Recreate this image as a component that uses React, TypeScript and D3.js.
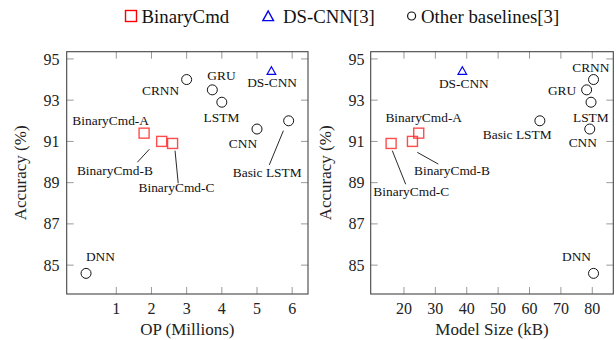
import React from 'react';
import * as d3 from 'd3';

// accuracy (%) shared by both panels
const binNames = ['BinaryCmd-A', 'BinaryCmd-B', 'BinaryCmd-C'];
const binAcc = [91.4, 91.0, 90.9];
const binOps = [1.79, 2.29, 2.6];
const binSize = [24.7, 22.7, 15.9];

const dsName = 'DS-CNN';
const dsAcc = 94.4;
const dsOps = 5.41;
const dsSize = 38.6;

const baseNames = ['DNN', 'CRNN', 'GRU', 'LSTM', 'CNN', 'Basic LSTM'];
const baseAcc = [84.6, 94.0, 93.5, 92.9, 91.6, 92.0];
const baseOps = [0.14, 3.0, 3.73, 4.0, 5.0, 5.9];
const baseSize = [80.4, 80.4, 78.2, 79.6, 79.2, 63.3];

const yTicks = [85, 87, 89, 91, 93, 95];
const opsTicks = [1, 2, 3, 4, 5, 6];
const sizeTicks = [20, 30, 40, 50, 60, 70, 80];

// label anchors in axis units: [name, x, y] (text centre / baseline)
const opsLabels: [string, number, number][] = [
  ['DNN', 0.55, 85.2], ['CRNN', 2.26, 93.25], ['GRU', 3.99, 93.98], ['LSTM', 3.99, 91.96],
  ['CNN', 4.6, 90.67], ['Basic LSTM', 5.29, 89.29], ['DS-CNN', 5.43, 93.65],
  ['BinaryCmd-A', 0.84, 91.8], ['BinaryCmd-B', 0.96, 89.39], ['BinaryCmd-C', 2.71, 88.56],
];
const opsLeaders: [number, number, number, number][] = [
  [5.75, 91.52, 5.35, 89.86], [1.94, 90.62, 1.6, 89.99], [2.67, 90.55, 2.76, 88.97],
];
const sizeLabels: [string, number, number][] = [
  ['DNN', 74.98, 85.21], ['CRNN', 79.54, 94.35], ['GRU', 70.36, 93.25], ['LSTM', 79.54, 91.96],
  ['CNN', 76.99, 90.71], ['Basic LSTM', 56.08, 91.1], ['DS-CNN', 39.07, 93.57],
  ['BinaryCmd-A', 26.29, 91.96], ['BinaryCmd-B', 35.31, 89.35], ['BinaryCmd-C', 22.34, 88.34],
];
const sizeLeaders: [number, number, number, number][] = [
  [24.25, 90.47, 30.94, 89.9], [16.28, 90.55, 20.55, 88.92],
];

const FONT = '"Liberation Serif", "Times New Roman", serif';
const TOP = 51.7, BOTTOM = 294;

function Panel({ x0, x1, xDomain, xTicks, xLabel, xs, labels, leaders, labelX, tickLabelX }: any) {
  const x = d3.scaleLinear().domain(xDomain).range([x0, x1]);
  const y = d3.scaleLinear().domain([83.6, 95.35]).range([BOTTOM, TOP]);
  const tick = 7;
  const tri = (cx: number, cy: number) => `M${cx},${cy - 4.5}L${cx + 4.3},${cy + 3}L${cx - 4.3},${cy + 3}Z`;
  return (
    <g fontFamily={FONT}>
      {yTicks.map(t => (
        <g key={'y' + t}>
          <line x1={x0} x2={x0 + tick} y1={y(t)} y2={y(t)} stroke="#9a9a9a" />
          <line x1={x1} x2={x1 - tick} y1={y(t)} y2={y(t)} stroke="#9a9a9a" />
          <text x={tickLabelX} y={y(t)} dy="0.35em" textAnchor="end" fontSize={16} fill="#222">{t}</text>
        </g>
      ))}
      {xTicks.map((t: number) => (
        <g key={'x' + t}>
          <line x1={x(t)} x2={x(t)} y1={BOTTOM} y2={BOTTOM - tick} stroke="#9a9a9a" />
          <line x1={x(t)} x2={x(t)} y1={TOP} y2={TOP + tick} stroke="#9a9a9a" />
          <text x={x(t)} y={314} textAnchor="middle" fontSize={16} fill="#222">{t}</text>
        </g>
      ))}
      <rect x={x0} y={TOP} width={x1 - x0} height={BOTTOM - TOP} fill="none" stroke="#444" strokeWidth={1.1} />
      <text x={(x0 + x1) / 2} y={335} textAnchor="middle" fontSize={17} fill="#222">{xLabel}</text>
      <text transform={`translate(${labelX},${(TOP + BOTTOM) / 2}) rotate(-90)`} textAnchor="middle" fontSize={17} fill="#222">Accuracy (%)</text>

      {leaders.map((l: number[], i: number) => (
        <line key={'l' + i} x1={x(l[0])} y1={y(l[1])} x2={x(l[2])} y2={y(l[3])} stroke="#111" strokeWidth={0.9} />
      ))}
      {baseAcc.map((a, i) => (
        <circle key={'c' + i} cx={x(xs.base[i])} cy={y(a)} r={5} fill="none" stroke="#111" strokeWidth={1} />
      ))}
      <path d={tri(x(xs.ds), y(dsAcc))} fill="none" stroke="#0000ee" strokeWidth={1.2} />
      {binAcc.map((a, i) => (
        <rect key={'b' + i} x={x(xs.bin[i]) - 5} y={y(a) - 5} width={10} height={10} fill="none" stroke="#ff2020" strokeOpacity={0.8} strokeWidth={1.4} />
      ))}
      {labels.map((l: [string, number, number]) => (
        <text key={l[0]} x={x(l[1])} y={y(l[2])} textAnchor="middle" fontSize={13.4} fill="#111">{l[0]}</text>
      ))}
    </g>
  );
}

export default function App() {
  return (
    <svg width={616} height={340} style={{ position: 'absolute', left: 0, top: 0, background: '#fff' }}>
      <g fontFamily={FONT} fontSize={18.8} fill="#111">
        <rect x={125.5} y={10.5} width={11} height={11} fill="none" stroke="#ff0000" strokeWidth={1.4} />
        <text x={141.5} y={23}>BinaryCmd</text>
        <path d="M268.2,11L273.5,20.6L262.9,20.6Z" fill="none" stroke="#0000ee" strokeWidth={1.4} />
        <text x={283} y={23}>{dsName}[3]</text>
        <circle cx={411.6} cy={16} r={4} fill="none" stroke="#111" strokeWidth={1.2} />
        <text x={421} y={23}>Other baselines[3]</text>
      </g>
      <Panel x0={66.7} x1={308} xDomain={[-0.41, 6.45]} xTicks={opsTicks} xLabel="OP (Millions)"
        xs={{ base: baseOps, ds: dsOps, bin: binOps }} labels={opsLabels} leaders={opsLeaders}
        labelX={26} tickLabelX={59.5} />
      <Panel x0={370.7} x1={613.3} xDomain={[9.4, 86.7]} xTicks={sizeTicks} xLabel="Model Size (kB)"
        xs={{ base: baseSize, ds: dsSize, bin: binSize }} labels={sizeLabels} leaders={sizeLeaders}
        labelX={331} tickLabelX={364.5} />
    </svg>
  );
}
